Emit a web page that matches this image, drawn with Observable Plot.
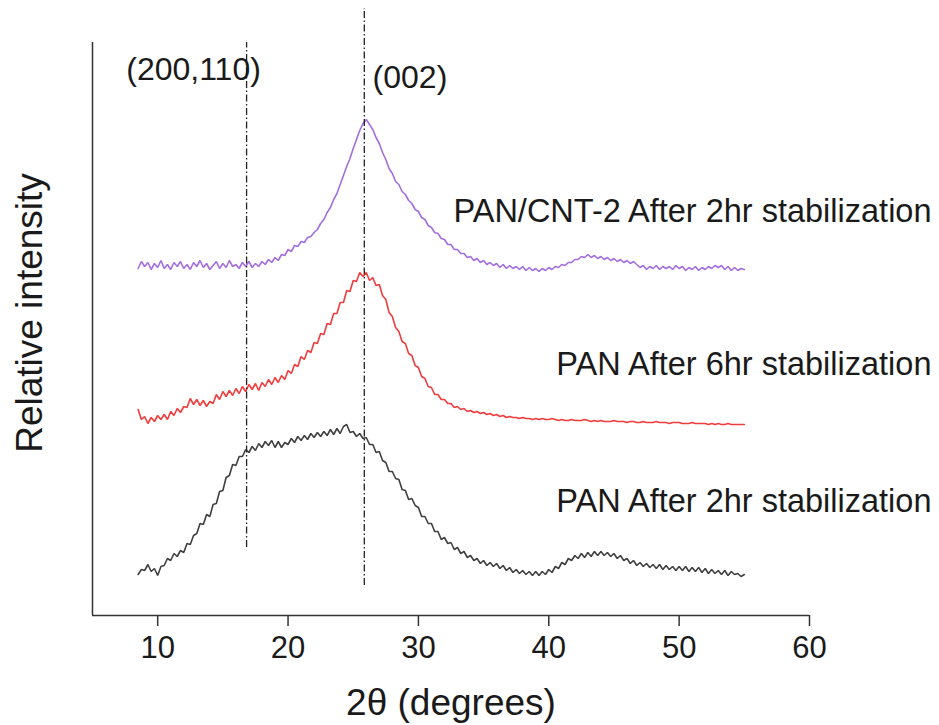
<!DOCTYPE html>
<html>
<head>
<meta charset="utf-8">
<script src="https://cdn.jsdelivr.net/npm/d3@7"></script>
<script src="https://cdn.jsdelivr.net/npm/@observablehq/plot@0.6"></script>
<style>
  html, body { margin: 0; padding: 0; background: #fff; }
  #chart svg { display: block; }
</style>
</head>
<body>
<div id="chart"></div>
<script>
// 2θ sampling grid of the digitised patterns (degrees)
const angleStart = 8.5;
const angleStep = 0.25;

// Relative intensity (arbitrary units, stacked offsets as in the figure), rows of 2°
const panCnt2After2hr = [
  347,354,349,353,346,352,348,355,
  347,351,346,353,349,354,347,351,
  346,353,349,355,348,352,346,350,
  354,347,352,348,355,349,351,347,
  353,349,354,348,352,349,354,351,
  356,353,358,355,361,360,366,364,
  370,369,374,373,378,379,383,386,
  392,396,403,408,416,422,431,440,
  449,457,467,476,485,492,496,491,
  486,478,472,463,456,447,442,434,
  431,424,421,415,412,406,404,398,
  396,390,388,383,382,377,376,371,
  371,366,366,362,362,358,359,355,
  357,353,355,351,353,350,352,348,
  351,347,350,347,349,346,349,345,
  348,345,347,344,347,345,348,346,
  349,348,351,350,353,353,356,356,
  359,358,361,358,360,357,359,356,
  358,355,357,354,356,353,355,352,
  354,351,348,350,346,349,347,350,
  346,349,347,349,346,350,347,349,
  345,348,346,349,345,348,346,349,
  347,350,348,350,346,349,345,348,
  345,347,346
];

const panAfter6hr = [
  206,196,199,192,198,194,200,196,
  201,196,204,200,207,203,209,208,
  217,211,216,210,215,209,214,212,
  221,216,224,219,225,220,227,222,
  229,224,231,226,232,225,233,229,
  236,231,238,233,240,236,245,242,
  251,249,259,256,265,263,273,272,
  282,281,292,291,302,302,313,313,
  325,324,335,334,343,339,343,335,
  338,330,331,320,316,303,299,288,
  284,274,272,262,260,250,248,239,
  237,229,228,221,221,216,216,212,
  212,208,209,206,207,204,205,203,
  204,202,203,201,202,200,201,199,
  200,198,199,198,198,197,198,197,
  197,196,197,196,197,196,196,197,
  196,195,196,195,195,196,195,195,
  195,196,195,194,195,194,195,194,
  194,194,195,194,194,194,193,194,
  194,193,193,194,193,193,193,194,
  193,193,193,192,193,193,193,192,
  192,192,193,192,192,192,192,191,
  192,191,192,191,191,192,191,191,
  191,191,191
];

const panAfter2hr = [
  41,46,45,51,44,47,40,49,
  50,57,55,62,59,65,63,72,
  71,80,82,92,91,101,99,111,
  112,124,125,138,140,151,150,159,
  159,166,163,169,165,172,168,174,
  170,175,168,174,168,173,171,177,
  173,179,175,180,176,182,178,183,
  179,184,180,186,181,187,182,189,
  191,183,184,179,182,177,178,171,
  171,163,164,155,153,144,144,137,
  136,126,125,116,117,110,108,99,
  99,92,92,84,84,76,78,72,
  73,66,68,62,64,58,60,55,
  57,52,55,50,53,49,52,47,
  50,45,48,43,46,42,45,41,
  44,40,44,40,44,41,46,43,
  49,47,53,51,57,55,60,57,
  62,58,63,59,64,60,64,60,
  63,59,62,57,60,55,57,52,
  55,50,53,49,52,48,51,47,
  51,46,50,46,49,45,49,45,
  49,44,48,44,48,43,47,42,
  46,42,45,41,45,40,44,41,
  42,39,41
];

const seriesNames = ["PAN/CNT-2 After 2hr stabilization", "PAN After 6hr stabilization", "PAN After 2hr stabilization"];
const seriesColors = ["#a46ee0", "#f03c3c", "#404040"];
const seriesLabelY = [404, 251, 114];

const xDomain = [5, 60];
const yDomain = [0, 573];
const xTicks = [10, 20, 30, 40, 50, 60];

// Reflection markers (dash-dot guide lines) and their labels
const peakNames = ["(200,110)", "(002)"];
const peakAngles = [16.82, 25.85];
const peakLineBottom = [68, 30];
const peakLineTop = [573, 607];
const peakLabelAngle = [12.75, 29.35];
const peakLabelY = [546, 538];

const allSeries = [panCnt2After2hr, panAfter6hr, panAfter2hr];
const rows = allSeries.flatMap((vals, s) =>
  vals.map((v, i) => ({series: seriesNames[s], angle: angleStart + i * angleStep, intensity: v}))
);
const peaks = peakNames.map((name, i) => ({
  name, angle: peakAngles[i], y1: peakLineBottom[i], y2: peakLineTop[i],
  labelAngle: peakLabelAngle[i], labelY: peakLabelY[i]
}));
const seriesLabels = seriesNames.map((name, i) => ({name, y: seriesLabelY[i]}));

const sans = "Liberation Sans, Arial, Helvetica, sans-serif";
const narrow = "Liberation Sans Narrow, Arial Narrow, Liberation Sans, Arial, sans-serif";

const chart = Plot.plot({
  width: 939,
  height: 725,
  marginLeft: 92,
  marginRight: 130,
  marginTop: 42,
  marginBottom: 110,
  style: {fontFamily: sans, color: "#1a1a1a", background: "#fff", overflow: "visible"},
  x: {domain: xDomain, axis: null},
  y: {domain: yDomain, axis: null},
  marks: [
    Plot.ruleX([xDomain[0]], {stroke: "#333", strokeWidth: 1.5}),
    Plot.ruleY([yDomain[0]], {stroke: "#333", strokeWidth: 1.5}),
    Plot.axisX({
      ticks: xTicks, tickSize: 11, tickPadding: 9, fontSize: 31,
      fontFamily: narrow, stroke: "#333", strokeWidth: 1.5, label: null
    }),
    ...seriesNames.map((name, s) =>
      Plot.line(rows.filter(d => d.series === name), {
        x: "angle", y: "intensity", stroke: seriesColors[s], strokeWidth: 1.6, strokeLinejoin: "miter"
      })
    ),
    Plot.ruleX(peaks, {
      x: "angle", y1: "y1", y2: "y2", stroke: "#222", strokeWidth: 1.3,
      strokeDasharray: "7,2.5,1.5,2.5"
    }),
    Plot.text(peaks, {
      x: "labelAngle", y: "labelY", text: "name", fontSize: 32, fill: "#1a1a1a", lineAnchor: "middle"
    }),
    Plot.text(seriesLabels, {
      frameAnchor: "right", dx: 122, y: "y", text: "name", textAnchor: "end",
      fontSize: 32.5, fill: "#1a1a1a", lineAnchor: "middle"
    }),
    Plot.text(["2θ (degrees)"], {
      frameAnchor: "bottom", dy: 88, text: d => d, fontSize: 37, fill: "#1a1a1a", lineAnchor: "middle"
    }),
    Plot.text(["Relative intensity"], {
      frameAnchor: "left", dx: -62, dy: -16, rotate: -90, text: d => d, fontSize: 37,
      textAnchor: "middle", fill: "#1a1a1a", lineAnchor: "middle"
    })
  ]
});
document.getElementById("chart").appendChild(chart);
</script>
</body>
</html>
